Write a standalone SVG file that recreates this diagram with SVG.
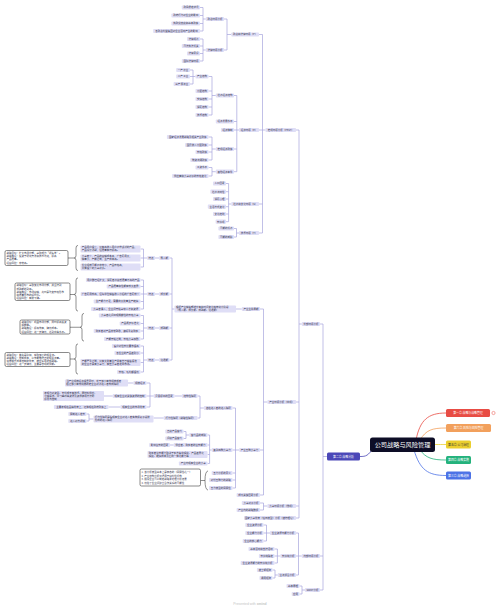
<svg xmlns="http://www.w3.org/2000/svg" width="500" height="609" viewBox="0 0 500 609">
<style>
.b{fill:#dfdef6}
.t{font-family:"Noto Sans CJK SC","Noto Sans",sans-serif;font-size:2.5px;fill:#30304a;text-anchor:middle}
.l{text-anchor:start}
.c{fill:none;stroke:#a6a5dc;stroke-width:0.7}
.s{fill:none;stroke:#333;stroke-width:0.55}
.nb{fill:#fff;stroke:#2a2a2a;stroke-width:0.55}
.w{font-family:"Noto Sans CJK SC","Noto Sans",sans-serif;font-size:2.9px;fill:#fff;text-anchor:middle}
</style>
<rect width="500" height="609" fill="#fff"/>
<g id="connectors">
<path class="c" d="M327,456.5H323M323,324V590M323,324H320M323,556H320M323,590H320"/>
<path class="c" d="M301.8,324H299M299,130V518M299,130H296M299,402H296M299,506H296M299,518H296"/>
<path class="c" d="M265.5,130H262.5M262.5,34.5V233M262.5,34.5H259M262.5,130H259M262.5,204H259M262.5,233H259"/>
<path class="c" d="M231.3,34.5H227M227,19V50M227,19H224M227,50H224"/>
<path class="c" d="M205.8,19H203M203,7.5V31M203,7.5H200M203,15.5H200M203,23.5H200M203,31H200"/>
<path class="c" d="M205.8,50H203M203,39V61M203,39H200M203,46H200M203,53.5H200M203,61H200"/>
<path class="c" d="M239,130H236.8M236.8,95.5V171.7M236.8,95.5H234M236.8,121.5H234M236.8,130H234M236.8,149H234M236.8,171.7H234"/>
<path class="c" d="M215.8,95.5H212M212,76.5V115M212,76.5H208.5M212,91H208.5M212,99H208.5M212,107H208.5M212,115H208.5"/>
<path class="c" d="M195.5,76.5H193M193,70V84M193,70H190M193,76.5H190M193,84H190"/>
<path class="c" d="M215.8,149H212M212,137V160M212,137H208.5M212,145H208.5M212,152H208.5M212,160H208.5"/>
<path class="c" d="M215.8,171.7H212M212,167.5V176M212,167.5H208.5M212,176H208.5"/>
<path class="c" d="M231.3,204H228.6M228.6,183.5V221.7M228.6,183.5H226M228.6,191.7H226M228.6,199H226M228.6,206.7H226M228.6,214H226M228.6,221.7H226"/>
<path class="c" d="M239,233H236.5M236.5,228.5V237M236.5,228.5H234M236.5,237H234"/>
<path class="c" d="M267.4,402H263.5M263.5,309V495M263.5,309H260M263.5,450H260M263.5,495H260"/>
<path class="c" d="M241.8,309H236M174.5,309H172M172,258V360M172,258H169.5M172,294H169.5M172,328H169.5M172,360H169.5"/>
<path class="c" d="M159.1,258H155M159.1,294H155M159.1,328H155M159.1,360H155"/>
<path class="c" d="M147.2,258H143.5M143.5,249V267M143.5,249H140.5M143.5,258H140.5M143.5,267H140.5"/>
<path class="c" d="M147.2,294H143.5M143.5,280V309M143.5,280H140.5M143.5,286.5H140.5M143.5,294H140.5M143.5,301.5H140.5M143.5,309H140.5"/>
<path class="c" d="M147.2,328H143.5M143.5,315.5V339M143.5,315.5H140.5M143.5,323.5H140.5M143.5,331H140.5M143.5,339H140.5"/>
<path class="c" d="M147.2,360H143.5M143.5,346V372M143.5,346H140.5M143.5,353H140.5M143.5,362.5H140.5M143.5,372H140.5"/>
<path class="c" d="M239.2,450H235.5M235.5,408V488M235.5,408H232.5M235.5,450H232.5M235.5,473H232.5M235.5,480H232.5M235.5,488H232.5"/>
<path class="c" d="M203.9,408H200M200,396V418M200,396H197.5M200,418H197.5M181.9,396H174.5"/>
<path class="c" d="M153.7,396H150M150,383V407M150,383H146.5M150,396H146.5M150,407H146.5"/>
<path class="c" d="M133.5,383H128M112.7,396H104M120.5,407H108.5M163.7,418H153.5"/>
<path class="c" d="M93.5,419H89M89,414V421M89,414H86.5M89,421H86.5"/>
<path class="c" d="M211.7,450H209.6M209.6,435V463.5M209.6,435H207.5M209.6,445H207.5M209.6,454.5H207.5M209.6,463.5H207.5"/>
<path class="c" d="M189.3,435H186M186,431.5V438.5M186,431.5H183.5M186,438.5H183.5M173.7,445H170"/>
<path class="c" d="M267.4,506H263.5M263.5,503V510M263.5,503H260M263.5,510H260"/>
<path class="c" d="M301.8,556H298.5M298.5,533V575M298.5,533H296M298.5,556H296M298.5,575H296"/>
<path class="c" d="M270,533H266.5M266.5,525V541M266.5,525H263.5M266.5,533H263.5M266.5,541H263.5"/>
<path class="c" d="M280.4,556H277.4M277.4,549V563M277.4,549H274.5M277.4,556H274.5M277.4,563H274.5"/>
<path class="c" d="M277.8,575H275M275,570V578M275,570H272.5M275,578H272.5"/>
<path class="c" d="M305,590H302M302,586V594M302,586H299.5M302,594H299.5"/>
<path class="s" d="M78,245.4Q76,245.4 76,248V255.6Q76,258 74,258Q76,258 76,260.4V268Q76,270.6 78,270.6M74,258H68"/>
<path class="s" d="M78,277.9Q76,277.9 76,280.5V292.1Q76,294.5 74,294.5Q76,294.5 76,296.9V308.5Q76,311.1 78,311.1M74,294.5H70"/>
<path class="s" d="M84,313.4Q82,313.4 82,316V324.85Q82,327.25 80,327.25Q82,327.25 82,329.65V338.5Q82,341.1 84,341.1M80,327.25H70"/>
<path class="s" d="M78,343.9Q76,343.9 76,346.5V356.6Q76,359 74,359Q76,359 76,361.4V371.5Q76,374.1 78,374.1M74,359H70"/>
<path class="s" d="M208,470.9Q205,471.5 205,480.5Q205,489.5 208,490.1M205,480.5H200.5"/>
<path fill="none" stroke="#e84c44" stroke-width="0.8" d="M416,440C420,420 428,413 446,413"/>
<path fill="none" stroke="#f2a05c" stroke-width="0.8" d="M420,440C426,430 432,428 446,428"/>
<path fill="none" stroke="#ebcf2e" stroke-width="0.8" d="M430,444.5C438,444.5 440,444.5 446,444.5"/>
<path fill="none" stroke="#24b27c" stroke-width="0.8" d="M420,450C426,458 432,460 446,460"/>
<path fill="none" stroke="#4c72e6" stroke-width="0.8" d="M414,450C420,470 428,475.5 446,475.5"/>
<path fill="none" stroke="#4b47b8" stroke-width="0.8" d="M374,447C368,456 366,456.5 360,456.5"/>
</g>
<g id="root"><rect x="370" y="437.5" width="65" height="14.5" rx="2.5" fill="#0d0d26"/><text x="402.5" y="447.1" font-family="Noto Sans CJK SC, sans-serif" font-size="6.2" fill="#fff" text-anchor="middle">公司战略与风险管理</text></g>
<g id="ch1"><rect x="446" y="409" width="44" height="8" rx="1.5" fill="#e84c44"/><text class="w" x="468" y="414">第一章 战略与战略管理</text><circle cx="493.5" cy="413" r="1.6" fill="#fff" stroke="#e84c44" stroke-width="0.5"/></g>
<g id="ch6"><rect x="446" y="424" width="45" height="8" rx="1.5" fill="#f2a05c"/><text class="w" x="468.5" y="429">第六章 风险与风险管理</text></g>
<g id="ch5"><rect x="446" y="440.5" width="25" height="8" rx="1.5" fill="#ebcf2e"/><text class="w" x="458.5" y="445.5" style="fill:#333">第五章 公司治理</text></g>
<g id="ch4"><rect x="446" y="456" width="25" height="8" rx="1.5" fill="#24b27c"/><text class="w" x="458.5" y="461">第四章 战略实施</text></g>
<g id="ch3"><rect x="446" y="471.5" width="25" height="8" rx="1.5" fill="#4c72e6"/><text class="w" x="458.5" y="476.5">第三章 战略选择</text></g>
<g id="ch2"><rect x="327" y="452.5" width="33" height="8" rx="1.5" fill="#4b47b8"/><text class="w" x="343.5" y="457.5">第二章 战略分析</text></g>

<g id="ext"><rect class="b" x="301.8" y="321.9" width="18.2" height="4.2" rx="0.8"/><text class="t" x="310.9" y="324.9">外部环境分析</text></g>
<g id="int"><rect class="b" x="301.8" y="553.9" width="18.2" height="4.2" rx="0.8"/><text class="t" x="310.9" y="556.9">内部环境分析</text></g>
<g id="swot"><rect class="b" x="305" y="587.9" width="15" height="4.2" rx="0.8"/><text class="t" x="312.5" y="590.9">SWOT分析</text></g>

<g id="pest"><rect class="b" x="265.5" y="127.9" width="30.5" height="4.2" rx="0.8"/><text class="t" x="280.75" y="130.9">宏观环境分析（PEST）</text></g>
<g id="ind"><rect class="b" x="267.4" y="399.9" width="28.6" height="4.2" rx="0.8"/><text class="t" x="281.7" y="402.9">产业环境分析（中观）</text></g>
<g id="comp"><rect class="b" x="267.4" y="503.9" width="28.6" height="4.2" rx="0.8"/><text class="t" x="281.7" y="506.9">竞争环境分析（微观）</text></g>
<g id="nat"><rect class="b" x="244" y="515.9" width="52" height="4.2" rx="0.8"/><text class="t" x="270" y="518.9">国家竞争优势（钻石模型）分析（波特理论）</text></g>

<g id="p"><rect class="b" x="231.3" y="32.4" width="27.7" height="4.2" rx="0.8"/><text class="t" x="245.15" y="35.4">政治和法律环境（P）</text></g>
<g id="e"><rect class="b" x="239" y="127.9" width="20" height="4.2" rx="0.8"/><text class="t" x="249" y="130.9">经济环境（E）</text></g>
<g id="s"><rect class="b" x="231.3" y="201.9" width="27.7" height="4.2" rx="0.8"/><text class="t" x="245.15" y="204.9">社会和文化环境（S）</text></g>
<g id="tt"><rect class="b" x="239" y="230.9" width="20" height="4.2" rx="0.8"/><text class="t" x="249" y="233.9">技术环境（T）</text></g>

<g id="p1"><rect class="b" x="205.8" y="16.9" width="18.2" height="4.2" rx="0.8"/><text class="t" x="214.9" y="19.9">政治环境分析</text></g>
<g id="p2"><rect class="b" x="205.8" y="47.9" width="18.2" height="4.2" rx="0.8"/><text class="t" x="214.9" y="50.9">法律环境分析</text></g>
<g id="p1a"><rect class="b" x="181.8" y="5.4" width="18.2" height="4.2" rx="0.8"/><text class="t" x="190.9" y="8.4">政局稳定状况</text></g>
<g id="p1b"><rect class="b" x="171.4" y="13.4" width="28.6" height="4.2" rx="0.8"/><text class="t" x="185.7" y="16.4">政府行为对企业的影响</text></g>
<g id="p1c"><rect class="b" x="171.4" y="21.4" width="28.6" height="4.2" rx="0.8"/><text class="t" x="185.7" y="24.4">执政党态度和基本政策</text></g>
<g id="p1d"><rect class="b" x="153.2" y="28.9" width="46.8" height="4.2" rx="0.8"/><text class="t" x="176.6" y="31.9">各政治利益集团对企业活动产生的影响</text></g>
<g id="p2a"><rect class="b" x="187" y="36.9" width="13" height="4.2" rx="0.8"/><text class="t" x="193.5" y="39.9">法律规范</text></g>
<g id="p2b"><rect class="b" x="181.8" y="43.9" width="18.2" height="4.2" rx="0.8"/><text class="t" x="190.9" y="46.9">司法执法机关</text></g>
<g id="p2c"><rect class="b" x="187" y="51.4" width="13" height="4.2" rx="0.8"/><text class="t" x="193.5" y="54.4">法律意识</text></g>
<g id="p2d"><rect class="b" x="181.8" y="58.9" width="18.2" height="4.2" rx="0.8"/><text class="t" x="190.9" y="61.9">国际法律环境</text></g>

<g id="e1"><rect class="b" x="215.8" y="93.4" width="18.2" height="4.2" rx="0.8"/><text class="t" x="224.9" y="96.4">社会经济结构</text></g>
<g id="e2"><rect class="b" x="215.8" y="119.4" width="18.2" height="4.2" rx="0.8"/><text class="t" x="224.9" y="122.4">经济发展水平</text></g>
<g id="e3"><rect class="b" x="221" y="127.9" width="13" height="4.2" rx="0.8"/><text class="t" x="227.5" y="130.9">经济体制</text></g>
<g id="e4"><rect class="b" x="215.8" y="146.9" width="18.2" height="4.2" rx="0.8"/><text class="t" x="224.9" y="149.9">宏观经济政策</text></g>
<g id="e5"><rect class="b" x="215.8" y="169.6" width="18.2" height="4.2" rx="0.8"/><text class="t" x="224.9" y="172.6">其他经济条件</text></g>
<g id="e1a"><rect class="b" x="195.5" y="74.4" width="13" height="4.2" rx="0.8"/><text class="t" x="202" y="77.4">产业结构</text></g>
<g id="e1b"><rect class="b" x="195.5" y="88.9" width="13" height="4.2" rx="0.8"/><text class="t" x="202" y="91.9">分配结构</text></g>
<g id="e1c"><rect class="b" x="195.5" y="96.9" width="13" height="4.2" rx="0.8"/><text class="t" x="202" y="99.9">交换结构</text></g>
<g id="e1d"><rect class="b" x="195.5" y="104.9" width="13" height="4.2" rx="0.8"/><text class="t" x="202" y="107.9">消费结构</text></g>
<g id="e1e"><rect class="b" x="195.5" y="112.9" width="13" height="4.2" rx="0.8"/><text class="t" x="202" y="115.9">技术结构</text></g>
<g id="e1a1"><rect class="b" x="176.2" y="67.9" width="13.8" height="4.2" rx="0.8"/><text class="t" x="183.1" y="70.9">一产 农业</text></g>
<g id="e1a2"><rect class="b" x="176.2" y="74.4" width="13.8" height="4.2" rx="0.8"/><text class="t" x="183.1" y="77.4">二产 工业</text></g>
<g id="e1a3"><rect class="b" x="173.6" y="81.9" width="16.4" height="4.2" rx="0.8"/><text class="t" x="181.8" y="84.9">三产 服务业</text></g>
<g id="e4a"><rect class="b" x="166.9" y="134.9" width="41.6" height="4.2" rx="0.8"/><text class="t" x="187.7" y="137.9">国家经济发展战略及相关产业政策</text></g>
<g id="e4b"><rect class="b" x="185.1" y="142.9" width="23.4" height="4.2" rx="0.8"/><text class="t" x="196.8" y="145.9">国民收入分配政策</text></g>
<g id="e4c"><rect class="b" x="195.5" y="149.9" width="13" height="4.2" rx="0.8"/><text class="t" x="202" y="152.9">价格政策</text></g>
<g id="e4d"><rect class="b" x="190.3" y="157.9" width="18.2" height="4.2" rx="0.8"/><text class="t" x="199.4" y="160.9">物资流通政策</text></g>
<g id="e5a"><rect class="b" x="195.5" y="165.4" width="13" height="4.2" rx="0.8"/><text class="t" x="202" y="168.4">工资水平</text></g>
<g id="e5b"><rect class="b" x="172.1" y="173.9" width="36.4" height="4.2" rx="0.8"/><text class="t" x="190.3" y="176.9">供应商和竞争对手的价格变化</text></g>

<g id="s1"><rect class="b" x="213" y="181.4" width="13" height="4.2" rx="0.8"/><text class="t" x="219.5" y="184.4">人口因素</text></g>
<g id="s2"><rect class="b" x="210.4" y="189.6" width="15.6" height="4.2" rx="0.8"/><text class="t" x="218.2" y="192.6">社会流动性</text></g>
<g id="s3"><rect class="b" x="213" y="196.9" width="13" height="4.2" rx="0.8"/><text class="t" x="219.5" y="199.9">消费心理</text></g>
<g id="s4"><rect class="b" x="207.8" y="204.6" width="18.2" height="4.2" rx="0.8"/><text class="t" x="216.9" y="207.6">生活方式变化</text></g>
<g id="s5"><rect class="b" x="213" y="211.9" width="13" height="4.2" rx="0.8"/><text class="t" x="219.5" y="214.9">文化传统</text></g>
<g id="s6"><rect class="b" x="215.6" y="219.6" width="10.4" height="4.2" rx="0.8"/><text class="t" x="220.8" y="222.6">价值观</text></g>
<g id="t1"><rect class="b" x="218.4" y="226.4" width="15.6" height="4.2" rx="0.8"/><text class="t" x="226.2" y="229.4">可能的机会</text></g>
<g id="t2"><rect class="b" x="218.4" y="234.9" width="15.6" height="4.2" rx="0.8"/><text class="t" x="226.2" y="237.9">可能的威胁</text></g>

<g id="life"><rect class="b" x="241.8" y="306.9" width="18.2" height="4.2" rx="0.8"/><text class="t" x="250.9" y="309.9">产业生命周期</text></g>
<g id="five"><rect class="b" x="239.2" y="447.9" width="20.8" height="4.2" rx="0.8"/><text class="t" x="249.6" y="450.9">产业五种竞争力</text></g>
<g id="ksf"><rect class="b" x="236.6" y="492.9" width="23.4" height="4.2" rx="0.8"/><text class="t" x="248.3" y="495.9">成功关键因素分析</text></g>
<g id="lifebox"><rect class="b" x="174.5" y="305.4" width="61.5" height="7.2" rx="0.8"/><text class="t l" x="176" y="308.45">根据产业销售额增长率和时间变化趋势划分阶段</text><text class="t l" x="176" y="311.35">（导入期、成长期、成熟期、衰退期）</text></g>

<g id="st1"><rect class="b" x="159.1" y="255.9" width="10.4" height="4.2" rx="0.8"/><text class="t" x="164.3" y="258.9">导入期</text></g>
<g id="st2"><rect class="b" x="159.1" y="291.9" width="10.4" height="4.2" rx="0.8"/><text class="t" x="164.3" y="294.9">成长期</text></g>
<g id="st3"><rect class="b" x="159.1" y="325.9" width="10.4" height="4.2" rx="0.8"/><text class="t" x="164.3" y="328.9">成熟期</text></g>
<g id="st4"><rect class="b" x="159.1" y="357.9" width="10.4" height="4.2" rx="0.8"/><text class="t" x="164.3" y="360.9">衰退期</text></g>
<g id="f1"><rect class="b" x="147.2" y="255.9" width="7.8" height="4.2" rx="0.8"/><text class="t" x="151.1" y="258.9">特点</text></g>
<g id="f2"><rect class="b" x="147.2" y="291.9" width="7.8" height="4.2" rx="0.8"/><text class="t" x="151.1" y="294.9">特点</text></g>
<g id="f3"><rect class="b" x="147.2" y="325.9" width="7.8" height="4.2" rx="0.8"/><text class="t" x="151.1" y="328.9">特点</text></g>
<g id="f4"><rect class="b" x="147.2" y="357.9" width="7.8" height="4.2" rx="0.8"/><text class="t" x="151.1" y="360.9">特点</text></g>

<g id="i1a"><rect class="b" x="80.5" y="245.4" width="60" height="7.2" rx="0.8"/><text class="t l" x="81.8" y="248.45">产品用户很少，只有高收入用户会尝试新的产品，</text><text class="t l" x="81.8" y="251.35">产品设计新颖，但质量有待提高。</text></g>
<g id="i1b"><rect class="b" x="80.5" y="254.4" width="60" height="7.2" rx="0.8"/><text class="t l" x="81.8" y="257.45">竞争者少，产品的营销成本高，广告费用大，</text><text class="t l" x="81.8" y="260.35">销量小，产能过剩，生产成本高。</text></g>
<g id="i1c"><rect class="b" x="80.5" y="263.4" width="60" height="7.2" rx="0.8"/><text class="t l" x="81.8" y="266.45">企业规模可能会非常小，产品价格高，</text><text class="t l" x="81.8" y="269.35">只有很少的竞争对手。</text></g>
<g id="sum1"><rect class="nb" x="5" y="250.5" width="63" height="15" rx="1.5"/><text class="t l" x="6.5" y="254.25">战略目标：扩大市场份额，争取成为“领头羊”。</text><text class="t l" x="6.5" y="257.35">战略路径：投资于研究开发和技术改进，提高</text><text class="t l" x="6.5" y="260.45">产品质量。</text><text class="t l" x="6.5" y="263.55">经营风险：非常高。</text></g>

<g id="i2a"><rect class="b" x="85.9" y="277.9" width="54.6" height="4.2" rx="0.8"/><text class="t" x="113.2" y="280.9">用户群已经扩大，消费者会接受质量不高的产品</text></g>
<g id="i2b"><rect class="b" x="106.7" y="284.4" width="33.8" height="4.2" rx="0.8"/><text class="t" x="123.6" y="287.4">产品质量和性能有较大差异</text></g>
<g id="i2c"><rect class="b" x="80.7" y="291.9" width="59.8" height="4.2" rx="0.8"/><text class="t" x="110.6" y="294.9">广告费用较高，但每单位销售收入分担的广告费较少</text></g>
<g id="i2d"><rect class="b" x="93.7" y="299.4" width="46.8" height="4.2" rx="0.8"/><text class="t" x="117.1" y="302.4">生产能力不足，需要向大批量生产转换</text></g>
<g id="i2e"><rect class="b" x="91.1" y="306.9" width="49.4" height="4.2" rx="0.8"/><text class="t" x="115.8" y="309.9">竞争者涌入，企业间开始争夺人才和资源</text></g>
<g id="sum2"><rect class="nb" x="15" y="283" width="55" height="17.5" rx="1.5"/><text class="t l" x="16.5" y="286.45">战略目标：争取最大市场份额，并坚持到</text><text class="t l" x="16.5" y="289.55">成熟期的到来。</text><text class="t l" x="16.5" y="292.65">战略路径：市场营销，此时是改变价格形象</text><text class="t l" x="16.5" y="295.75">和质量形象的好时机。</text><text class="t l" x="16.5" y="298.85">经营风险：有所下降。</text></g>

<g id="i3a"><rect class="b" x="98.9" y="313.4" width="41.6" height="4.2" rx="0.8"/><text class="t" x="119.7" y="316.4">竞争者之间出现挑衅性的价格竞争</text></g>
<g id="i3b"><rect class="b" x="119.7" y="321.4" width="20.8" height="4.2" rx="0.8"/><text class="t" x="130.1" y="324.4">产品逐步标准化</text></g>
<g id="i3c"><rect class="b" x="93.7" y="328.9" width="46.8" height="4.2" rx="0.8"/><text class="t" x="117.1" y="331.9">购买者对产品非常熟悉，偏好重复购买</text></g>
<g id="i3d"><rect class="b" x="104.1" y="336.9" width="36.4" height="4.2" rx="0.8"/><text class="t" x="122.3" y="339.9">产能开始过剩，价格竞争加剧</text></g>
<g id="sum3"><rect class="nb" x="20" y="320" width="50" height="14" rx="1.5"/><text class="t l" x="21.5" y="323.25">战略目标：巩固市场份额，同时提高投资</text><text class="t l" x="21.5" y="326.35">报酬率。</text><text class="t l" x="21.5" y="329.45">战略路径：提高效率，降低成本。</text><text class="t l" x="21.5" y="332.55">经营风险：进一步降低，达到中等水平。</text></g>

<g id="i4a"><rect class="b" x="111.9" y="343.9" width="28.6" height="4.2" rx="0.8"/><text class="t" x="126.2" y="346.9">客户对性价比要求很高</text></g>
<g id="i4b"><rect class="b" x="114.5" y="350.9" width="26" height="4.2" rx="0.8"/><text class="t" x="127.5" y="353.9">各企业的产品差别小</text></g>
<g id="i4c"><rect class="b" x="80.5" y="358.9" width="60" height="7.2" rx="0.8"/><text class="t l" x="81.8" y="361.95">产能严重过剩，只有大批量生产并有自己销售渠道</text><text class="t l" x="81.8" y="364.85">的企业才具有竞争力，有些竞争者退出市场。</text></g>
<g id="i4d"><rect class="b" x="117.1" y="369.9" width="23.4" height="4.2" rx="0.8"/><text class="t" x="128.8" y="372.9">价格、毛利都很低</text></g>
<g id="sum4"><rect class="nb" x="5" y="352.5" width="65" height="14" rx="1.5"/><text class="t l" x="6.5" y="355.75">战略目标：首先是防御，获取最后的现金流。</text><text class="t l" x="6.5" y="358.85">战略路径：控制成本，以求能维持正的现金流量。</text><text class="t l" x="6.5" y="361.95">如果缺乏成本控制的优势，就应采用退却战略。</text><text class="t l" x="6.5" y="365.05">经营风险：进一步降低，主要是悲观的预期。</text></g>

<g id="fv1"><rect class="b" x="203.9" y="405.9" width="28.6" height="4.2" rx="0.8"/><text class="t" x="218.2" y="408.9">潜在进入者的进入障碍</text></g>
<g id="fv2"><rect class="b" x="211.7" y="447.9" width="20.8" height="4.2" rx="0.8"/><text class="t" x="222.1" y="450.9">其余四种竞争力</text></g>
<g id="fv3"><rect class="b" x="211.7" y="470.9" width="20.8" height="4.2" rx="0.8"/><text class="t" x="222.1" y="473.9">五力分析的意义</text></g>
<g id="fv4"><rect class="b" x="209.1" y="477.9" width="23.4" height="4.2" rx="0.8"/><text class="t" x="220.8" y="480.9">对付五种力的战略</text></g>
<g id="fv5"><rect class="b" x="209.1" y="485.9" width="23.4" height="4.2" rx="0.8"/><text class="t" x="220.8" y="488.9">五力模型的局限性</text></g>
<g id="lim"><rect class="nb" x="140" y="469" width="60.5" height="17" rx="1.5"/><text class="t l" x="141.5" y="473.1">1. 该分析模型基本上是静态的（局限性之一）</text><text class="t l" x="141.5" y="476.6">2. 产业结构分析仅适用于营利性机构</text><text class="t l" x="141.5" y="480.1">3. 假设企业可以制定战略来处理分析结果</text><text class="t l" x="141.5" y="483.6">4. 低估了企业间建立合作关系的可能性</text></g>

<g id="ba1"><rect class="b" x="181.9" y="393.9" width="15.6" height="4.2" rx="0.8"/><text class="t" x="189.7" y="396.9">结构性障碍</text></g>
<g id="ba2"><rect class="b" x="163.7" y="415.9" width="33.8" height="4.2" rx="0.8"/><text class="t" x="180.6" y="418.9">行为性障碍（战略性障碍）</text></g>
<g id="ba3"><rect class="b" x="153.7" y="393.9" width="20.8" height="4.2" rx="0.8"/><text class="t" x="164.1" y="396.9">贝恩提出的因素</text></g>
<g id="bb1"><rect class="b" x="133.5" y="380.9" width="13" height="4.2" rx="0.8"/><text class="t" x="140" y="383.9">规模经济</text></g>
<g id="bb2"><rect class="b" x="112.7" y="393.9" width="33.8" height="4.2" rx="0.8"/><text class="t" x="129.6" y="396.9">现有企业对关键资源的控制</text></g>
<g id="bb3"><rect class="b" x="120.5" y="404.9" width="26" height="4.2" rx="0.8"/><text class="t" x="133.5" y="407.9">现有企业的市场优势</text></g>
<g id="bn1"><rect class="b" x="65" y="379.4" width="63" height="7.2" rx="0.8"/><text class="t l" x="66.3" y="382.45">当产业规模经济很显著时，处于最小有效规模或者</text><text class="t l" x="66.3" y="385.35">超过最小有效规模的老企业对新进入者构成障碍</text></g>
<g id="bn2"><rect class="b" x="43" y="391" width="61" height="10" rx="0.8"/><text class="t l" x="44.3" y="394">表现为对资金、专利或专有技术、原材料供应、</text><text class="t l" x="44.3" y="396.9">分销渠道、学习曲线等资源及资源使用方法的</text><text class="t l" x="44.3" y="399.8">积累与控制</text></g>
<g id="bn3"><rect class="b" x="53.9" y="404.9" width="54.6" height="4.2" rx="0.8"/><text class="t" x="81.2" y="407.9">主要表现在品牌优势上，还体现在政府政策上</text></g>
<g id="bn4"><rect class="b" x="93.5" y="415.4" width="60" height="7.2" rx="0.8"/><text class="t l" x="94.8" y="418.45">行为性障碍是指现有企业对进入者实施报复手段所</text><text class="t l" x="94.8" y="421.35">形成的进入障碍</text></g>
<g id="bc1"><rect class="b" x="68.3" y="411.9" width="18.2" height="4.2" rx="0.8"/><text class="t" x="77.4" y="414.9">限制进入定价</text></g>
<g id="bc2"><rect class="b" x="68.3" y="418.9" width="18.2" height="4.2" rx="0.8"/><text class="t" x="77.4" y="421.9">进入对方领域</text></g>

<g id="o1"><rect class="b" x="189.3" y="432.9" width="18.2" height="4.2" rx="0.8"/><text class="t" x="198.4" y="435.9">替代品的威胁</text></g>
<g id="o2"><rect class="b" x="173.7" y="442.9" width="33.8" height="4.2" rx="0.8"/><text class="t" x="190.6" y="445.9">供应者、购买者的议价能力</text></g>
<g id="o3"><rect class="b" x="147.5" y="450.9" width="60" height="7.2" rx="0.8"/><text class="t l" x="148.8" y="453.95">购买者议价能力取决于买方集中程度、产品差异化</text><text class="t l" x="148.8" y="456.85">程度、转换成本及后向一体化能力等</text></g>
<g id="o4"><rect class="b" x="178.9" y="461.4" width="28.6" height="4.2" rx="0.8"/><text class="t" x="193.2" y="464.4">产业内现有企业的竞争</text></g>
<g id="o1a"><rect class="b" x="165.3" y="429.4" width="18.2" height="4.2" rx="0.8"/><text class="t" x="174.4" y="432.4">直接产品替代</text></g>
<g id="o1b"><rect class="b" x="165.3" y="436.4" width="18.2" height="4.2" rx="0.8"/><text class="t" x="174.4" y="439.4">间接产品替代</text></g>
<g id="o2a"><rect class="b" x="149.2" y="442.9" width="20.8" height="4.2" rx="0.8"/><text class="t" x="159.6" y="445.9">影响议价的因素</text></g>

<g id="c1"><rect class="b" x="241.8" y="500.9" width="18.2" height="4.2" rx="0.8"/><text class="t" x="250.9" y="503.9">竞争对手分析</text></g>
<g id="c2"><rect class="b" x="236.6" y="507.9" width="23.4" height="4.2" rx="0.8"/><text class="t" x="248.3" y="510.9">产业内的战略群组</text></g>

<g id="r1"><rect class="b" x="270" y="530.9" width="26" height="4.2" rx="0.8"/><text class="t" x="283" y="533.9">企业资源与能力分析</text></g>
<g id="r2"><rect class="b" x="280.4" y="553.9" width="15.6" height="4.2" rx="0.8"/><text class="t" x="288.2" y="556.9">价值链分析</text></g>
<g id="r3"><rect class="b" x="277.8" y="572.9" width="18.2" height="4.2" rx="0.8"/><text class="t" x="286.9" y="575.9">业务组合分析</text></g>
<g id="r1a"><rect class="b" x="245.3" y="522.9" width="18.2" height="4.2" rx="0.8"/><text class="t" x="254.4" y="525.9">企业资源分析</text></g>
<g id="r1b"><rect class="b" x="245.3" y="530.9" width="18.2" height="4.2" rx="0.8"/><text class="t" x="254.4" y="533.9">企业能力分析</text></g>
<g id="r1c"><rect class="b" x="242.7" y="538.9" width="20.8" height="4.2" rx="0.8"/><text class="t" x="253.1" y="541.9">企业的核心能力</text></g>
<g id="r2a"><rect class="b" x="248.5" y="546.9" width="26" height="4.2" rx="0.8"/><text class="t" x="261.5" y="549.9">基本活动和支持活动</text></g>
<g id="r2b"><rect class="b" x="258.9" y="553.9" width="15.6" height="4.2" rx="0.8"/><text class="t" x="266.7" y="556.9">价值链确定</text></g>
<g id="r2c"><rect class="b" x="240.7" y="560.9" width="33.8" height="4.2" rx="0.8"/><text class="t" x="257.6" y="563.9">企业资源能力的价值链分析</text></g>
<g id="r3a"><rect class="b" x="256.9" y="567.9" width="15.6" height="4.2" rx="0.8"/><text class="t" x="264.7" y="570.9">波士顿矩阵</text></g>
<g id="r3b"><rect class="b" x="259.5" y="575.9" width="13" height="4.2" rx="0.8"/><text class="t" x="266" y="578.9">通用矩阵</text></g>
<g id="w1"><rect class="b" x="286.5" y="583.9" width="13" height="4.2" rx="0.8"/><text class="t" x="293" y="586.9">基本原理</text></g>
<g id="w2"><rect class="b" x="291.7" y="591.9" width="7.8" height="4.2" rx="0.8"/><text class="t" x="295.6" y="594.9">应用</text></g>

<text x="250" y="604.5" font-family="Liberation Sans, sans-serif" font-size="3.4" fill="#c4c4c4" text-anchor="middle">Presented with <tspan font-weight="bold">xmind</tspan></text>
</svg>
